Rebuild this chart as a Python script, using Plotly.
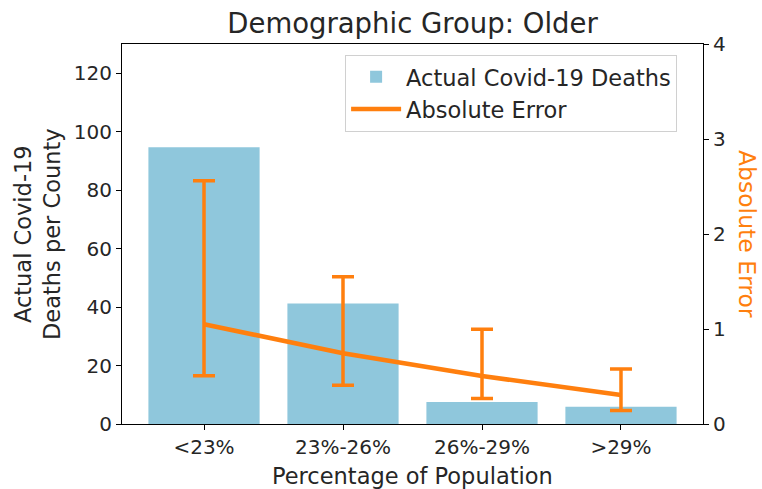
import plotly.graph_objects as go

categories = ["<23%", "23%-26%", "26%-29%", ">29%"]
deaths = [94.7, 41.2, 7.5, 5.9]
abs_error = [1.05, 0.745, 0.505, 0.305]
err_upper = [2.56, 1.55, 0.997, 0.578]
err_lower = [0.508, 0.408, 0.268, 0.142]

err_plus = [u - m for u, m in zip(err_upper, abs_error)]
err_minus = [m - l for m, l in zip(abs_error, err_lower)]

FONT = "DejaVu Sans"
ORANGE = "#ff7f0e"
TXT = "#262626"

fig = go.Figure()
fig.add_trace(go.Bar(
    x=categories, y=deaths, name="Actual Covid-19 Deaths",
    marker=dict(color="#8fc7dc", line=dict(width=0)), width=0.8,
))
fig.add_trace(go.Scatter(
    x=categories, y=abs_error, name="Absolute Error", yaxis="y2",
    mode="lines", line=dict(color=ORANGE, width=4.5),
    error_y=dict(type="data", symmetric=False, array=err_plus, arrayminus=err_minus,
                 color=ORANGE, thickness=3.5, width=11),
))

fig.update_layout(
    width=762, height=489,
    margin=dict(l=122, r=59, t=44, b=65),
    paper_bgcolor="white", plot_bgcolor="white",
    font=dict(family=FONT, size=20, color=TXT),
    title=dict(text="Demographic Group: Older", x=0.5, xanchor="center",
               xref="paper", y=1 - 23 / 489, yanchor="middle",
               font=dict(size=27.5, color=TXT)),
    showlegend=True,
    legend=dict(x=0.384, y=0.972, xanchor="left", yanchor="top",
                bgcolor="rgba(255,255,255,0.8)", bordercolor="#d0d0d0", borderwidth=1,
                font=dict(size=22.5, color=TXT), tracegroupgap=0, itemwidth=50),
    xaxis=dict(
        type="category", range=[-0.59, 3.59], showline=True, linecolor="black", linewidth=1,
        mirror=True, ticks="outside", ticklen=5, tickcolor="black",
        tickfont=dict(size=20, color=TXT), showgrid=False,
    ),
    yaxis=dict(
        range=[0, 130], tickvals=[0, 20, 40, 60, 80, 100, 120], showline=True,
        linecolor="black", linewidth=1, ticks="outside", ticklen=5, tickcolor="black",
        tickfont=dict(size=20, color=TXT), showgrid=False, zeroline=False,
    ),
    yaxis2=dict(
        range=[0, 4], tickvals=[0, 1, 2, 3, 4], overlaying="y", side="right",
        showline=True, linecolor="black", linewidth=1, ticks="outside", ticklen=5,
        tickcolor="black", tickfont=dict(size=20, color=TXT), showgrid=False, zeroline=False,
    ),
    annotations=[
        dict(text="Absolute Error", textangle=90, xref="paper", yref="paper",
             x=(747 - 122) / 581, y=0.5, xanchor="center", yanchor="middle", showarrow=False,
             font=dict(size=23.5, color=ORANGE, family=FONT)),
        dict(text="Actual Covid-19<br>Deaths per County", textangle=-90, xref="paper",
             yref="paper", x=(37 - 122) / 581, y=0.5, xanchor="center", yanchor="middle",
             showarrow=False, font=dict(size=22.5, color=TXT, family=FONT)),
        dict(text="Percentage of Population", xref="paper", yref="paper",
             x=0.5, y=(424 - 476) / 380, xanchor="center", yanchor="middle",
             showarrow=False, font=dict(size=22.5, color=TXT, family=FONT)),
    ],
)

fig.write_html("out.html")
